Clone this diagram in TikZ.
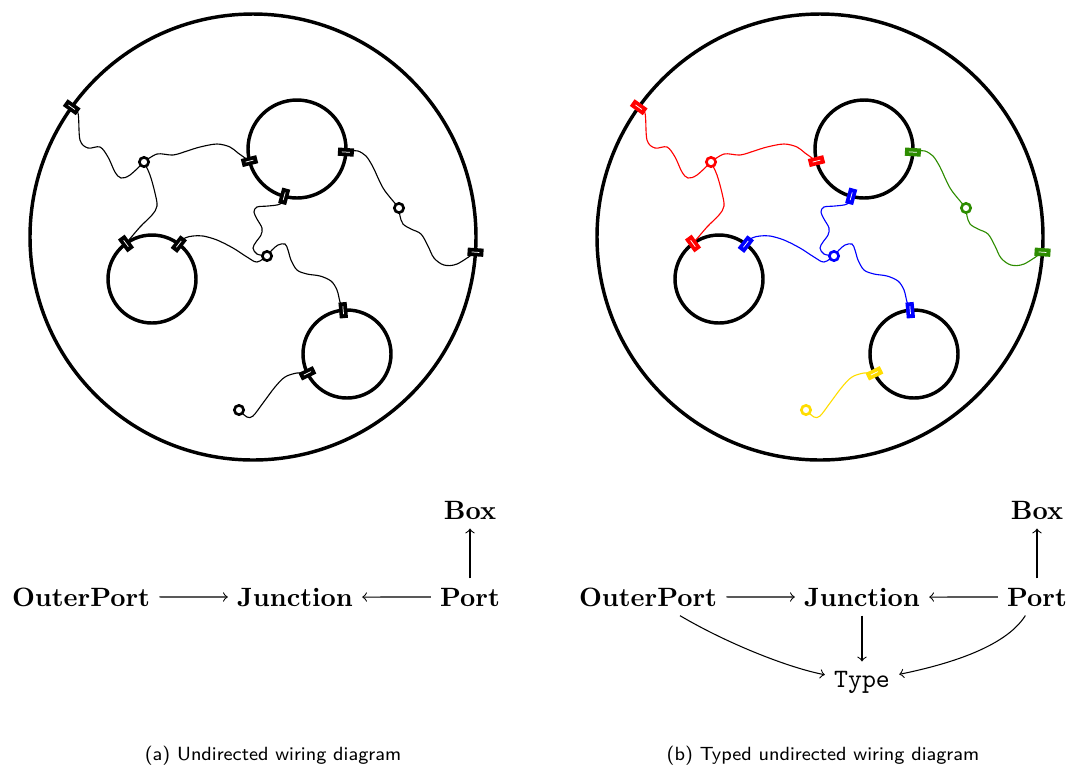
\documentclass[tikz,border=0pt]{standalone}
\usetikzlibrary{calc,backgrounds}
\definecolor{wgreen}{RGB}{45,140,0}
\definecolor{wyellow}{RGB}{255,221,0}
\tikzset{
 portbox/.style={rectangle, inner sep=0pt, outer sep=0pt, minimum width=6pt, minimum height=3.1pt},
 junc/.style={circle, draw=#1, fill=white, line width=1.0pt, inner sep=0pt, minimum size=3.5pt},
 bigc/.style={line width=1.3pt},
 wire/.style={line width=0.42pt, smooth, tension=0.55},
 lab/.style={font=\bfseries, anchor=base},
 ar/.style={->, line width=0.4pt},
 capt/.style={font=\sffamily\fontsize{7.2}{9}\selectfont},
}
\newcommand\mkport[5]{%
 \node[portbox, fill=#5, rotate=#4] (#1) at (#2,#3) {};
 \draw[white, line width=0.28pt] ($(#1.west)!0.25!(#1.east)$) -- ($(#1.west)!0.75!(#1.east)$);
}
\newcommand\drawpanel[5]{%
 \mkport{#1Po1}{71.7}{107.2}{144.4}{#2}
 \mkport{#1Po2}{475.5}{252.2}{-3.9}{#4}
 \mkport{#1A1}{249.5}{161.1}{194.3}{#2}
 \mkport{#1A2}{345.9}{152.1}{-3.6}{#4}
 \mkport{#1A3}{284.2}{196.3}{254.8}{#3}
 \mkport{#1B1}{126.0}{243.5}{126.3}{#2}
 \mkport{#1B2}{178.8}{244.1}{52.4}{#3}
 \mkport{#1C1}{343.2}{310.2}{95}{#3}
 \mkport{#1C2}{307.4}{373.3}{206}{#5}
 \node[junc=#2] (#1J1) at (144,162) {};
 \node[junc=#3] (#1J2) at (267,256) {};
 \node[junc=#4] (#1J3) at (399,208) {};
 \node[junc=#5] (#1J4) at (239,410) {};
 \begin{scope}[on background layer]
  \draw[bigc] (253,237) circle[radius=223];
  \draw[bigc] (297,149) circle[radius=49];
  \draw[bigc] (152,279) circle[radius=44];
  \draw[bigc] (347,354) circle[radius=44];
  \draw[wire,#2] plot coordinates {(#1Po1.center) (78,113) (80,140) (88,148) (100,147) (108,157) (115,172) (121,178) (130,175) (#1J1.center)};
  \draw[wire,#2] plot coordinates {(#1J1.center) (157,154) (173,155) (187,151) (200,147) (217,144) (230,147) (238,153) (#1A1.center)};
  \draw[wire,#2] plot coordinates {(#1J1.center) (150,175) (155,193) (157,206) (152,215) (140,227) (#1B1.center)};
  \draw[wire,#3] plot coordinates {(#1A3.center) (280,204) (268,206) (257,207) (254,212) (257,219) (262,228) (261,235) (256,242) (253,248) (257,254) (#1J2.center)};
  \draw[wire,#3] plot coordinates {(#1B2.center) (185,238) (193,236) (203,236) (217,240) (233,248) (247,257) (257,262) (#1J2.center)};
  \draw[wire,#3] plot coordinates {(#1J2.center) (272,250) (278,245) (285,244) (288,250) (291,260) (297,270) (307,274) (320,276) (331,281) (337,290) (340,302) (#1C1.center)};
  \draw[wire,#4] plot coordinates {(#1A2.center) (352,151) (358,151) (366,156) (373,167) (379,180) (385,191) (#1J3.center)};
  \draw[wire,#4] plot coordinates {(#1J3.center) (400,216) (403,224) (411,229) (421,234) (428,246) (434,258) (444,265) (457,264) (#1Po2.center)};
  \draw[wire,#5] plot coordinates {(#1J4.center) (247,417) (253,416) (263,403) (275,387) (285,377) (297,373) (#1C2.center)};
 \end{scope}
}
\begin{document}
\begin{tikzpicture}[x=0.377pt,y=-0.377pt]
\useasboundingbox (0,0) rectangle (1071,772);
\drawpanel{a}{black}{black}{black}{black}
\begin{scope}[xshift=213.76pt]
\drawpanel{b}{red}{blue}{wgreen}{wyellow}
\end{scope}
% category diagrams
\node[lab] (aOP) at (81,606) {OuterPort};
\node[lab] (aJn) at (295,606) {Junction};
\node[lab] (aPt) at (470,606) {Port};
\node[lab] (aBox) at (470,519) {Box};
\draw[ar] (aOP) -- (aJn);
\draw[ar] (aPt) -- (aJn);
\draw[ar] (aPt) -- (aBox);
\node[lab] (bOP) at (648,606) {OuterPort};
\node[lab] (bJn) at (862,606) {Junction};
\node[lab] (bPt) at (1037,606) {Port};
\node[lab] (bBox) at (1037,519) {Box};
\node[font=\ttfamily, anchor=base] (bType) at (862,687) {Type};
\draw[ar] (bOP) -- (bJn);
\draw[ar] (bPt) -- (bJn);
\draw[ar] (bPt) -- (bBox);
\draw[ar] (bJn) -- (bType);
\draw[ar] (bOP) .. controls (730,645) and (790,668) .. (bType);
\draw[ar] (bPt) .. controls (1005,648) and (945,665) .. (bType);
\node[capt] (capa) at (273,756) {(a) Undirected wiring diagram};
\node[capt] (capb) at (823,756) {(b) Typed undirected wiring diagram};
\end{tikzpicture}
\end{document}
